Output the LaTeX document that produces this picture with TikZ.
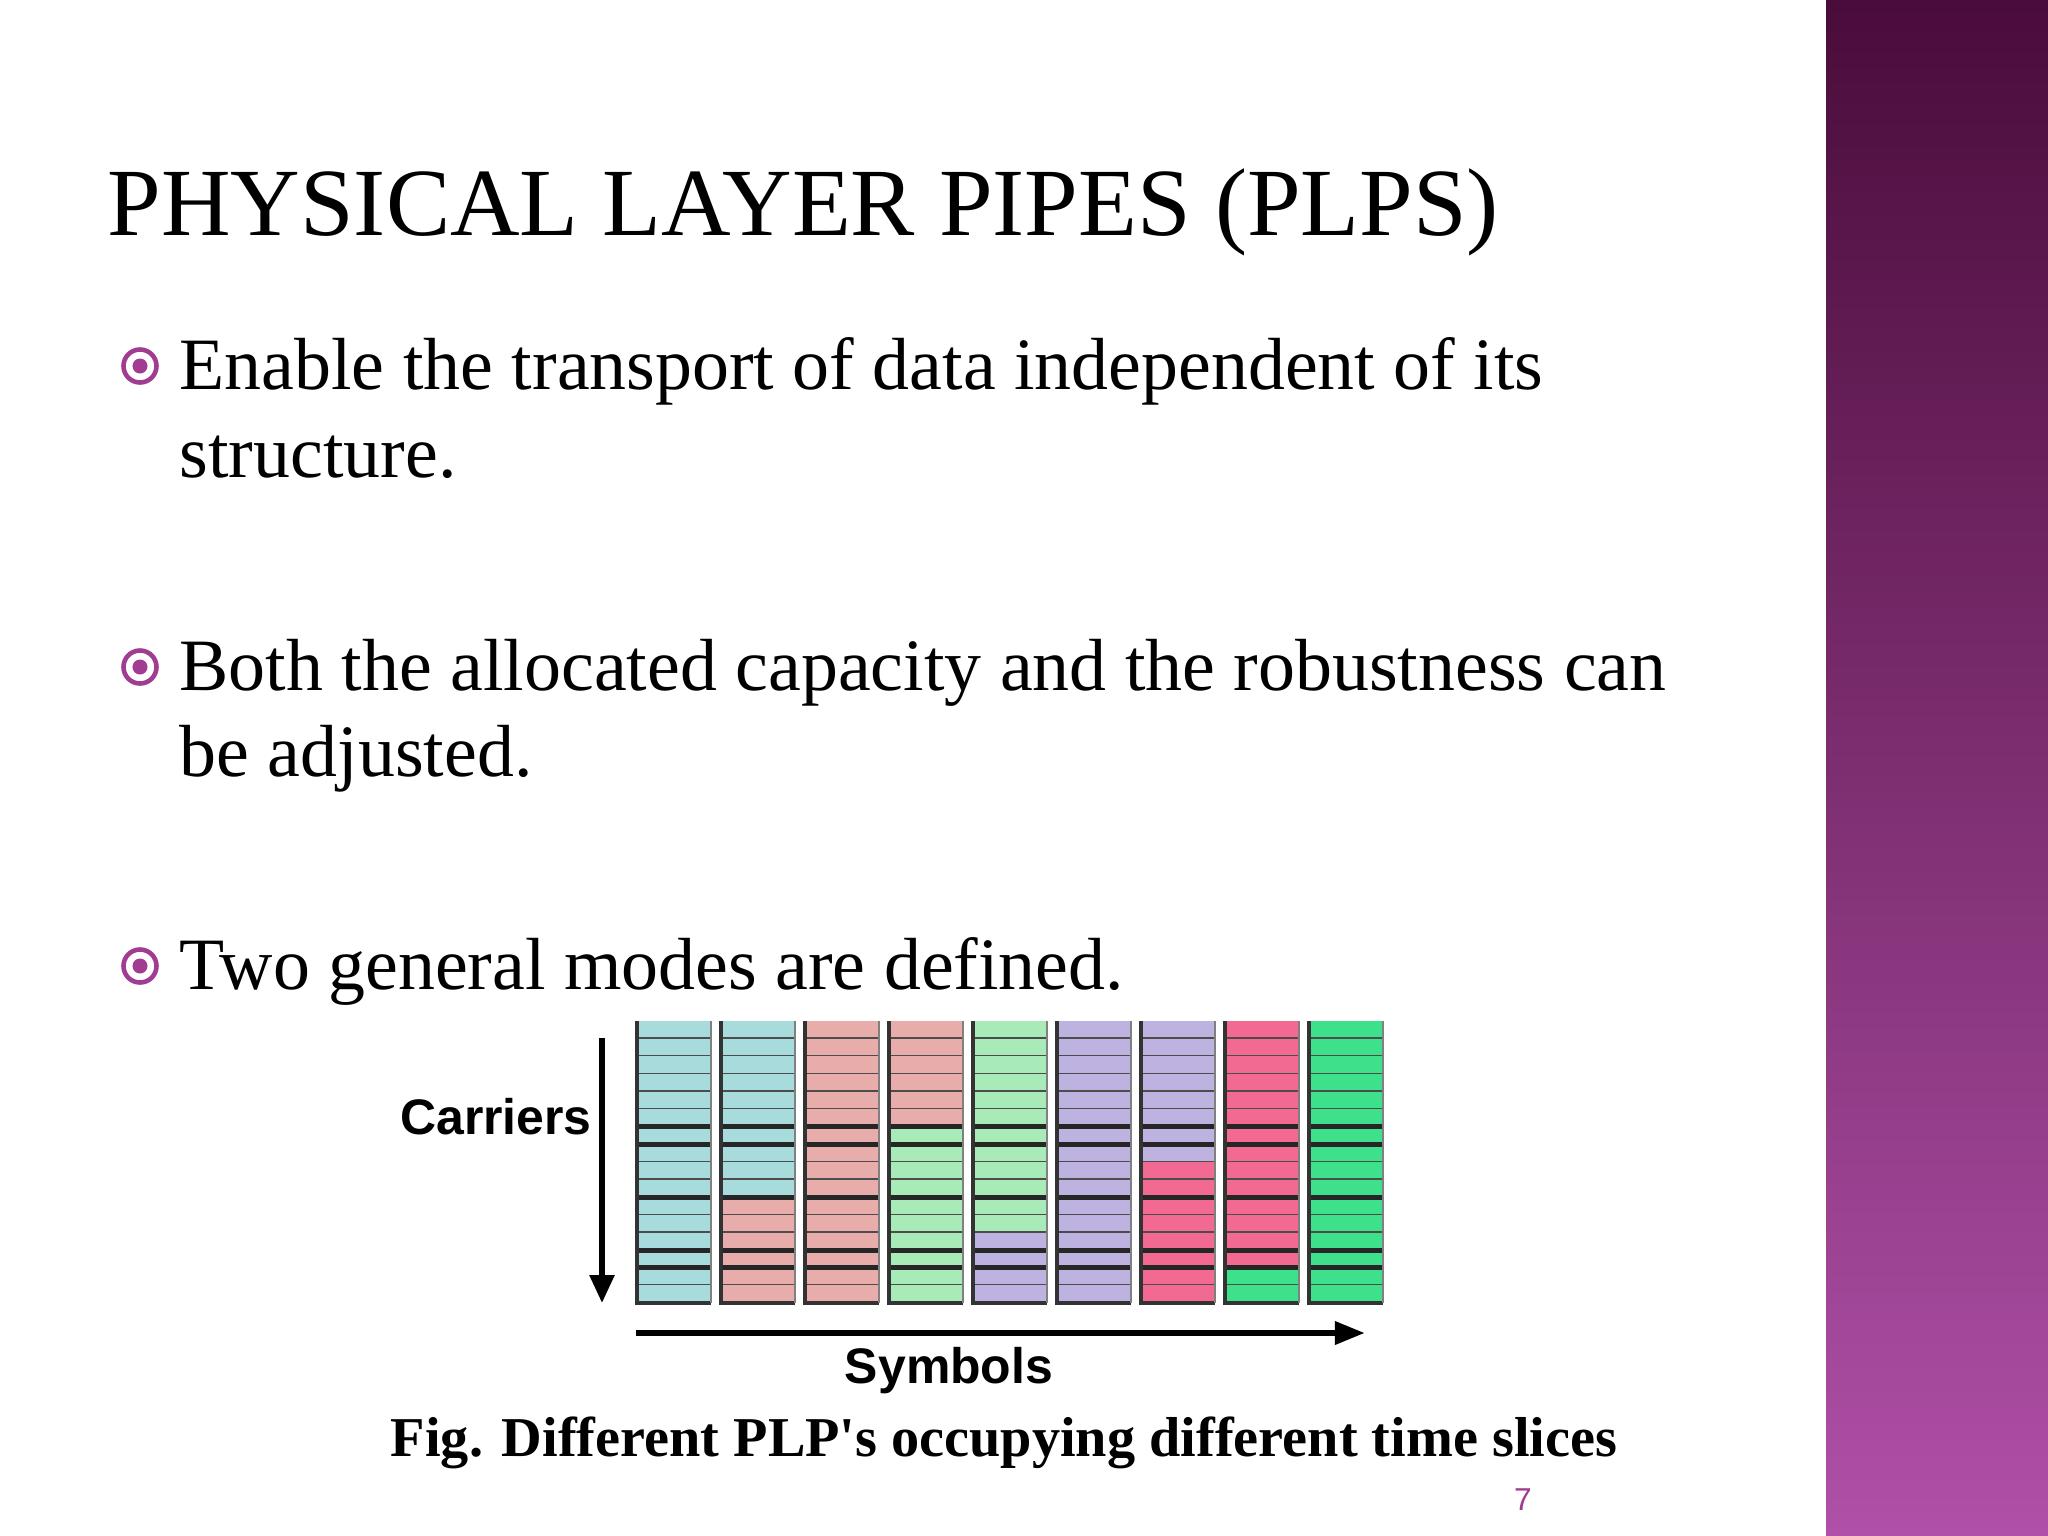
\documentclass[tikz,border=0pt]{standalone}
\usepackage{fontspec}
\setmainfont{Liberation Serif}
\setsansfont{Liberation Sans}
\usetikzlibrary{arrows.meta}
\definecolor{cB}{HTML}{A8DCDC}
\definecolor{cP}{HTML}{E8ACAA}
\definecolor{cG}{HTML}{A8EAB8}
\definecolor{cV}{HTML}{BEB2E0}
\definecolor{cH}{HTML}{F26A92}
\definecolor{cE}{HTML}{3EE08C}
\definecolor{bandtop}{HTML}{4A0C3A}
\definecolor{bandbot}{HTML}{B050A8}
\definecolor{bul}{HTML}{A03C92}
\tikzset{
  txt/.style={anchor=base west,inner sep=0pt,font=\fontsize{21}{25}\selectfont},
  bulletmark/.style={circle,draw=bul,line width=1.3pt,minimum size=0.33cm,inner sep=0pt,path picture={\fill[bul] (path picture bounding box.center) circle (0.075cm);}},
}
\begin{document}
\begin{tikzpicture}[x=0.01cm,y=-0.01cm]
\useasboundingbox (0,0) rectangle (2048,1536);
\fill[white] (0,0) rectangle (2048,1536);
\shade[top color=bandtop,bottom color=bandbot] (1826,0) rectangle (2048,1536);
\node[anchor=base west,inner sep=0pt,font=\fontsize{27.4}{32}\selectfont] (title) at (107,235) {PHYSICAL LAYER PIPES (PLPS)};
\node[bulletmark] (b1) at (140,366) {};
\node[txt] (t1) at (179,389) {Enable the transport of data independent of its};
\node[txt] (t1b) at (179,477) {structure.};
\node[bulletmark] (b2) at (140,667) {};
\node[txt] (t2) at (179,690) {Both the allocated capacity and the robustness can};
\node[txt] (t2b) at (179,776) {be adjusted.};
\node[bulletmark] (b3) at (140,966) {};
\node[txt] (t3) at (179,989) {Two general modes are defined.};
\def\rh{17.625}
\foreach \i/\s/\ca/\cb in {0/16/cB/cB,1/10/cB/cP,2/16/cP/cP,3/6/cP/cG,4/12/cG/cV,5/16/cV/cV,6/8/cV/cH,7/14/cH/cE,8/16/cE/cE}{
  \pgfmathsetmacro{\xa}{637+84*\i}
  \pgfmathsetmacro{\xb}{\xa+74}
  \foreach \r in {0,...,15}{
    \ifnum\r<\s \def\cc{\ca}\else\def\cc{\cb}\fi
    \fill[\cc] (\xa,1021+\r*\rh) rectangle (\xb,1021+\r*\rh+\rh);
    \draw[black!70,line width=0.7pt] (\xa,1021+\r*\rh+\rh) -- (\xb,1021+\r*\rh+\rh);
  }
  \foreach \r in {6,7,10,13,14}{
    \draw[black!85,line width=1.4pt] (\xa,1021+\r*\rh) -- (\xb,1021+\r*\rh);
  }
  \draw[black!80,line width=1.2pt] (\xa,1021) -- (\xa,1303) -- (\xb,1303);
  \draw[black!50,line width=0.6pt] (\xb,1021) -- (\xb,1303);
}
\coordinate (ct) at (602,1038);
\coordinate (cb) at (602,1303);
\draw[line width=1.6pt,-{Triangle[length=0.28cm,width=0.24cm]}] (ct) -- (cb);
\coordinate (sl) at (636,1333);
\coordinate (sr) at (1365,1333);
\draw[line width=1.8pt,-{Triangle[length=0.3cm,width=0.22cm]}] (sl) -- (sr);
\node[inner sep=0pt,font=\sffamily\bfseries\fontsize{14.2}{17}\selectfont] (car) at (496,1117) {Carriers};
\node[inner sep=0pt,font=\sffamily\bfseries\fontsize{14.2}{17}\selectfont] (sym) at (949,1371) {Symbols};
\node[anchor=base,inner sep=0pt,font=\bfseries\fontsize{16}{19}\selectfont] (cap) at (1004,1456) {Fig. Different PLP\textquotesingle s occupying different time slices};
\node[anchor=base,inner sep=0pt,text=bul,font=\sffamily\fontsize{9}{11}\selectfont] (pn) at (1523,1510) {7};
\end{tikzpicture}
\end{document}
